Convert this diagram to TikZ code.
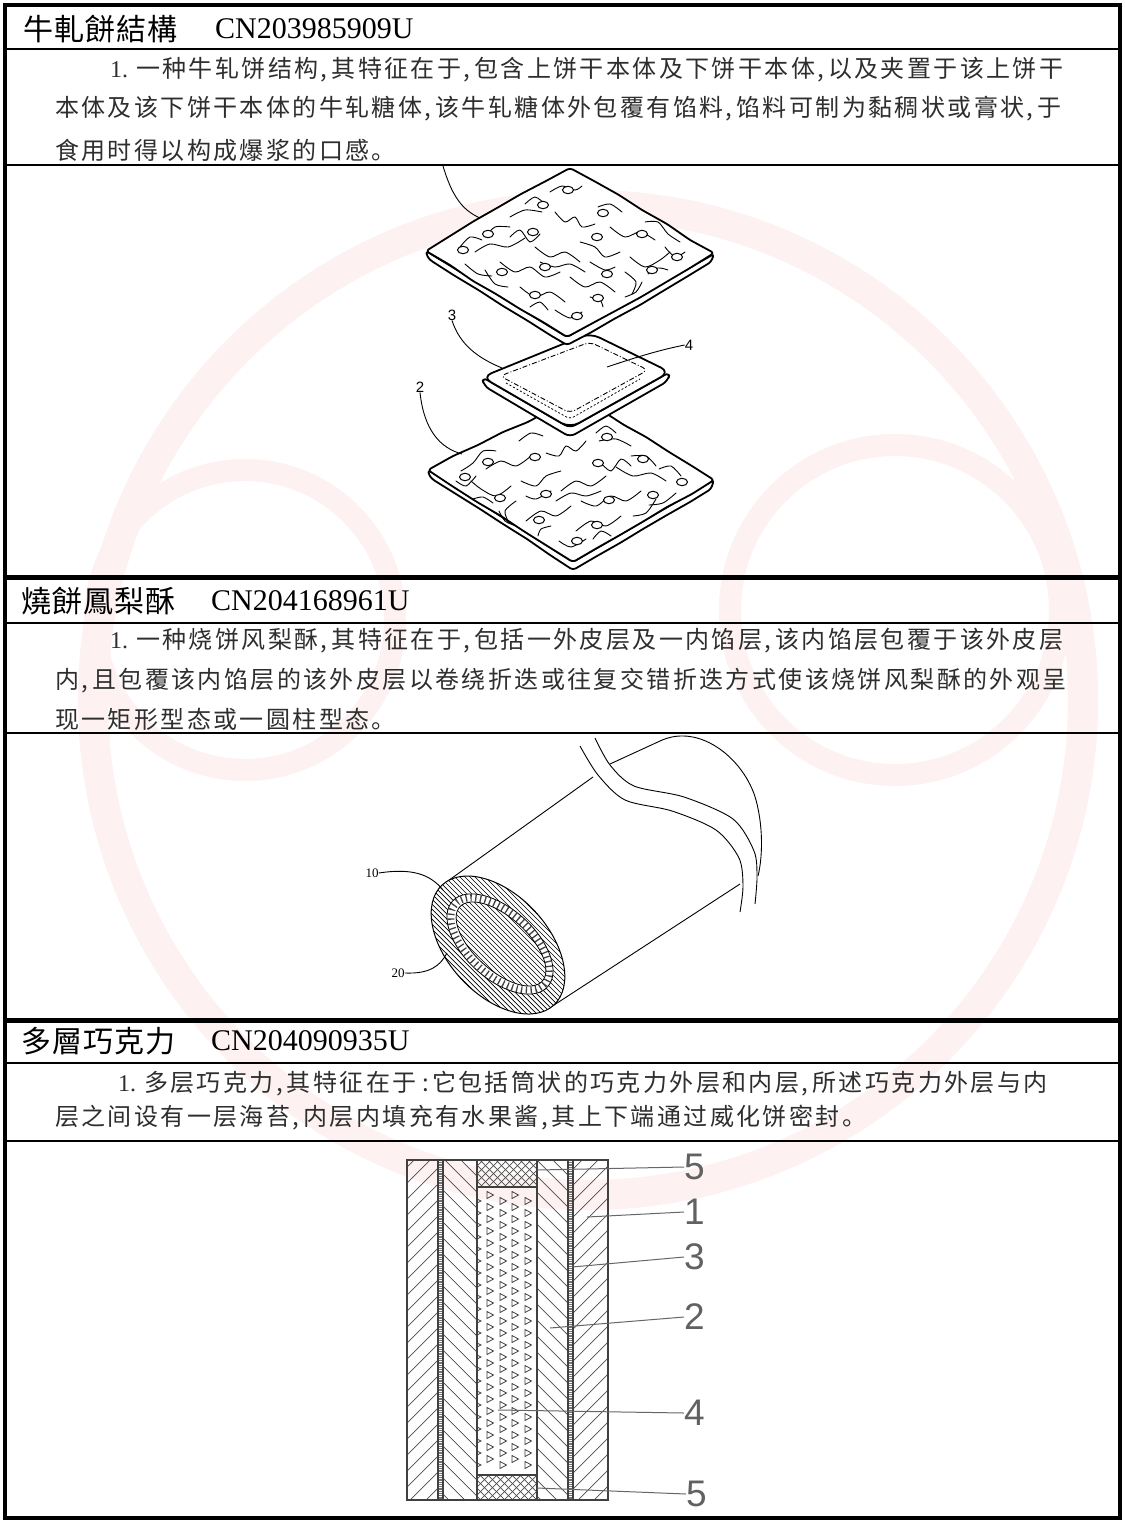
\documentclass[tikz,border=0pt]{standalone}
\usepackage{fontspec}
\setmainfont{Liberation Serif}
\newfontfamily\cjk[LetterSpace=10]{Noto Sans CJK SC}
\newfontfamily\cjkh[LetterSpace=4]{Noto Sans CJK TC}
\newfontfamily\lsans{Liberation Sans}
\definecolor{wm}{RGB}{253,241,241}
\newcommand\zc{,\kern4pt}
\newcommand\crtexture{%
  \foreach \c in {
   {(-95,0) (-80,-8) (-62,-5) (-45,-14)},
   {(-60,-35) (-45,-42) (-28,-40)},
   {(-20,-60) (-8,-66) (5,-62) (12,-66)},
   {(-15,-40) (-5,-30) (5,-35) (12,-25) (25,-28)},
   {(28,-45) (40,-48) (52,-40)},
   {(40,-25) (55,-15) (70,-20) (85,-12)},
   {(-70,10) (-55,20) (-40,15) (-25,25) (-10,20)},
   {(-35,-5) (-20,5) (-5,0) (10,10)},
   {(10,-10) (25,-5) (35,5) (50,0)},
   {(60,5) (75,15) (90,8) (100,0)},
   {(-50,35) (-35,45) (-20,40) (-5,50)},
   {(0,25) (15,35) (30,30) (45,40)},
   {(55,20) (66,30) (62,42)},
   {(-15,58) (0,66) (12,60)},
   {(20,45) (30,48) (33,55)},
   {(-85,-15) (-75,-25) (-60,-25)},
   {(75,-30) (88,-30) (98,-18) (110,-10)},
   {(-105,12) (-92,22) (-78,24)},
   {(78,22) (88,16) (98,18)},
   {(-60,-15) (-50,-22) (-40,-10) (-30,-18)},
   {(-85,18) (-75,32) (-62,35)},
   {(-110,-5) (-100,-15) (-88,-12)},
   {(-40,55) (-30,50) (-22,58)},
   {(-45,-48) (-35,-55) (-25,-48)},
   {(95,-5) (105,5) (115,0)},
   {(55,45) (66,40) (72,30)},
   {(-30,10) (-15,15) (0,12) (15,20)},
   {(20,10) (35,18) (45,15)}}
  \draw[wig] plot[smooth] coordinates \c;}
\begin{document}
\begin{tikzpicture}[x=1pt,y=-1pt,
  frame/.style={line width=3.5pt},
  rowline/.style={line width=2.8pt},
  sepline/.style={line width=5pt},
  hdr/.style={anchor=west,inner sep=0pt,font=\cjkh\fontsize{30}{32}\selectfont},
  hdrnum/.style={anchor=west,inner sep=0pt,font=\rmfamily\fontsize{30}{32}\selectfont},
  body/.style={anchor=west,inner sep=0pt,text=black!82,font=\cjk\fontsize{24}{28}\selectfont},
  crk/.style={line width=1.8pt,line join=round,fill=white,rounded corners=3pt},
  midp/.style={line width=1.8pt,line join=round,fill=white},
  wig/.style={line width=0.9pt,line cap=round},
  hole/.style={line width=1pt,fill=white},
  dd/.style={line width=0.9pt,dash pattern=on 5pt off 2pt on 1pt off 2pt},
  lbla/.style={inner sep=0pt,font=\lsans\fontsize{15}{15}\selectfont},
  lead/.style={line width=0.9pt},
  cyl/.style={line width=0.9pt,line join=round},
  lblb/.style={inner sep=0pt,font=\rmfamily\fontsize{13}{13}\selectfont},
  hat/.style={line width=0.7pt,black!70},
  lay/.style={line width=1.1pt,black!75},
  tri/.style={line width=0.8pt,black!75},
  lblc/.style={anchor=west,inner sep=0pt,text=black!62,font=\lsans\fontsize{37}{37}\selectfont},
  leadc/.style={line width=1pt,black!60}
]
\useasboundingbox (0,0) rectangle (1124,1520);
\fill[white] (0,0) rectangle (1124,1520);
% faint watermark
\draw[wm,line width=30pt] (588,700) circle [radius=495];
\draw[wm,line width=22pt] (245,620) circle [radius=150];
\draw[wm,line width=22pt] (895,610) circle [radius=165];

% ---------------- headers and texts ----------------
\node[hdr] (h1) at (23,29) {牛軋餅結構};
\node[hdrnum] (h1n) at (215,29) {CN203985909U};
\node[body] (t1a) at (110,70) {{\rmfamily 1.}\kern8pt 一种牛轧饼结构\zc 其特征在于\zc 包含上饼干本体及下饼干本体\zc 以及夹置于该上饼干};
\node[body] (t1b) at (55,109) {本体及该下饼干本体的牛轧糖体\zc 该牛轧糖体外包覆有馅料\zc 馅料可制为黏稠状或膏状\zc 于};
\node[body] (t1c) at (55,150) {食用时得以构成爆浆的口感。};

\node[hdr] (h2) at (21,601) {燒餅鳳梨酥};
\node[hdrnum] (h2n) at (211,601) {CN204168961U};
\node[body] (t2a) at (110,641) {{\rmfamily 1.}\kern8pt 一种烧饼风梨酥\zc 其特征在于\zc 包括一外皮层及一内馅层\zc 该内馅层包覆于该外皮层};
\node[body] (t2b) at (55,681) {内\zc 且包覆该内馅层的该外皮层以卷绕折迭或往复交错折迭方式使该烧饼风梨酥的外观呈};
\node[body] (t2c) at (55,719) {现一矩形型态或一圆柱型态。};

\node[hdr] (h3) at (21,1041) {多層巧克力};
\node[hdrnum] (h3n) at (211,1041) {CN204090935U};
\node[body] (t3a) at (118,1084) {{\rmfamily 1.}\kern8pt 多层巧克力\zc 其特征在于\kern6pt :\kern3pt 它包括筒状的巧克力外层和内层\zc 所述巧克力外层与内};
\node[body] (t3b) at (55,1118) {层之间设有一层海苔\zc 内层内填充有水果酱\zc 其上下端通过威化饼密封。};

% ---------------- picture 1: crackers ----------------
% bottom cracker
\filldraw[crk] (428,470) -- (429,475) -- (432,479) -- (456,494) -- (480,509) -- (503,524) -- (527,539) -- (550,555) -- (573,570) -- (597,556) -- (620,543) -- (643,529) -- (667,515) -- (690,502) -- (711,489) -- (714,480) -- (573,562) -- cycle;
\filldraw[crk] (578,397) -- (601,410) -- (624,425) -- (646,437) -- (669,452) -- (692,466) -- (714,480) -- (692,494) -- (667,507) -- (644,521) -- (620,535) -- (597,548) -- (573,562) -- (549,547) -- (525,532) -- (501,516) -- (477,502) -- (452,486) -- (428,470) -- (453,456) -- (478,445) -- (503,432) -- (528,422) -- (553,408) -- cycle;
\begin{scope}[shift={(571,481)},xscale=-1]
  \crtexture
\end{scope}
\foreach \x/\y in {607/437,488/462,535/457,598/463,643/459,465/477,682/482,500/498,546/494,609/500,653/495,539/520,597/525,577/541}
  \draw[hole] (\x,\y) ellipse [x radius=5.5,y radius=3.7];
% middle piece
\filldraw[midp,rounded corners=6pt] (482,377) -- (484,386) -- (570,437) -- (668,381) -- (670,372) -- (570,428) -- cycle;
\filldraw[midp,rounded corners=10pt] (590,333) -- (670,372) -- (570,428) -- (482,377) -- cycle;
\draw[dd,rounded corners=6pt] (590,342) -- (648,370) -- (570,413) -- (500,376) -- cycle;
\draw[line width=0.8pt,dash pattern=on 2pt off 2pt,rounded corners=4pt] (506,383) -- (570,419) -- (640,379);
% top cracker
\filldraw[crk] (426,251) -- (427,256) -- (430,260) -- (455,276) -- (480,291) -- (503,306) -- (528,321) -- (550,335) -- (567,345) -- (590,333) -- (614,319) -- (640,305) -- (663,291) -- (688,276) -- (711,262) -- (714,254) -- (567,337) -- cycle;
\filldraw[crk] (570,168) -- (594,181) -- (619,195) -- (642,210) -- (667,224) -- (690,240) -- (714,253) -- (690,268) -- (668,281) -- (641,297) -- (617,310) -- (591,324) -- (567,337) -- (543,322) -- (520,309) -- (496,294) -- (473,281) -- (450,265) -- (426,251) -- (450,236) -- (474,221) -- (497,208) -- (521,194) -- (546,181) -- cycle;
\begin{scope}[shift={(570,252)}]
  \crtexture
\end{scope}
\foreach \x/\y in {568/190,543/205,603/213,488/234,533/232,597/237,642/234,463/250,677/257,502/272,545/267,607/274,652/270,535/295,598/298,577/316}
  \draw[hole] (\x,\y) ellipse [x radius=5.5,y radius=3.7];
% leaders and labels
\coordinate (l1s) at (443,166);
\coordinate (l1e) at (480,218);
\draw[lead] (l1s) .. controls (452,196) and (462,210) .. (l1e);
\node[lbla] (n3) at (452,315) {3};
\coordinate (l3e) at (502,368);
\draw[lead] (n3.south) .. controls (460,345) and (478,358) .. (l3e);
\node[lbla] (n4) at (689,345) {4};
\coordinate (l4e) at (607,367);
\draw[lead] (n4.west) .. controls (660,350) and (640,356) .. (l4e);
\node[lbla] (n2) at (420,387) {2};
\coordinate (l2e) at (462,454);
\draw[lead] (n2.south) .. controls (424,430) and (440,448) .. (l2e);

% ---------------- picture 2: cylinder ----------------
\draw[cyl] (445,883) -- (593,777);
\draw[cyl] (551,1007) -- (740,884);
\draw[cyl] plot[smooth] coordinates {(580,746) (598,775) (625,800) (672,811) (716,830) (739,858) (743,886) (740,912)};
\draw[cyl] plot[smooth] coordinates {(595,738) (610,765) (634,786) (684,797) (733,819) (754,851) (757,877) (755,904)};
\draw[cyl] (610,764) -- (660,741) .. controls (700,722) and (745,760) .. (756,800) .. controls (764,830) and (762,860) .. (758,876);
% end face
\coordinate (fc) at (498,945);
\fill[white,rotate around={-47:(fc)}] (fc) ellipse [x radius=82,y radius=50];
\begin{scope}
  \clip[rotate around={-47:(fc)}] (fc) ellipse [x radius=82,y radius=50];
  \foreach \k in {-240,-235,...,240}
    \draw[line width=0.7pt] (\k+348,795) -- (\k+648,1095);
\end{scope}
\filldraw[fill=white,line width=0.8pt,rotate around={-42:(500,944)}] (500,944) ellipse [x radius=64,y radius=35];
\draw[line width=7pt,dash pattern=on 1.3pt off 3.5pt,black!75,rotate around={-42:(500,944)}] (500,944) ellipse [x radius=60,y radius=31];
\fill[white,rotate around={-42:(501,944)}] (501,944) ellipse [x radius=55.5,y radius=26.5];
\begin{scope}
  \clip[rotate around={-42:(501,944)}] (501,944) ellipse [x radius=55.5,y radius=26.5];
  \foreach \k in {-200,-195,...,200}
    \draw[line width=0.6pt] (\k+351,794) -- (\k+651,1094);
\end{scope}
\draw[line width=0.8pt,rotate around={-42:(501,944)}] (501,944) ellipse [x radius=55.5,y radius=26.5];
\draw[line width=1pt,rotate around={-47:(fc)}] (fc) ellipse [x radius=82,y radius=50];
\node[lblb] (n10) at (372,873) {10};
\coordinate (l10e) at (443,890);
\draw[cyl] (n10.east) .. controls (412,868) and (430,874) .. (l10e);
\node[lblb] (n20) at (398,973) {20};
\coordinate (l20e) at (447,953);
\draw[cyl] (n20.east) .. controls (430,974) and (440,966) .. (l20e);

% ---------------- picture 3: layered chocolate ----------------
\begin{scope}
  \clip (407,1160) rectangle (438,1500);
  \foreach \k in {1120,1136,...,1510} \draw[hat] (407,\k+31) -- (438,\k);
\end{scope}
\begin{scope}
  \clip (443,1160) rectangle (477,1500);
  \foreach \k in {1110,1126,...,1510} \draw[hat] (443,\k) -- (477,\k+34);
\end{scope}
\begin{scope}
  \clip (537,1160) rectangle (568,1500);
  \foreach \k in {1112,1128,...,1510} \draw[hat] (537,\k) -- (568,\k+31);
\end{scope}
\begin{scope}
  \clip (573,1160) rectangle (608,1500);
  \foreach \k in {1118,1134,...,1510} \draw[hat] (573,\k+35) -- (608,\k);
\end{scope}
\begin{scope}
  \clip (477,1160) rectangle (537,1187);
  \foreach \k in {440,448,...,560} {\draw[hat] (\k,1160) -- (\k+27,1187); \draw[hat] (\k+27,1160) -- (\k,1187);}
\end{scope}
\begin{scope}
  \clip (477,1475) rectangle (537,1500);
  \foreach \k in {440,448,...,560} {\draw[hat] (\k,1475) -- (\k+25,1500); \draw[hat] (\k+25,1475) -- (\k,1500);}
\end{scope}
\foreach \r in {0,...,22} {
  \pgfmathsetmacro\ya{1195+12*\r}
  \pgfmathsetmacro\yb{1201+12*\r}
  \foreach \cx in {490,515} \draw[tri] (\cx-3,\ya-3.5) -- (\cx+3.5,\ya) -- (\cx-3,\ya+3.5) -- cycle;
  \foreach \cx in {503,528} \draw[tri] (\cx-3,\yb-3.5) -- (\cx+3.5,\yb) -- (\cx-3,\yb+3.5) -- cycle;
  \draw[tri] (477,\yb-2) -- (481,\yb) -- (477,\yb+2);
}
\draw[line width=2.6pt,dash pattern=on 0.9pt off 0.9pt,black!55] (440.5,1160) -- (440.5,1500);
\draw[line width=2.6pt,dash pattern=on 0.9pt off 0.9pt,black!55] (570.5,1160) -- (570.5,1500);
\foreach \xx in {438,443,477,537,568,573} \draw[lay] (\xx,1160) -- (\xx,1500);
\draw[lay] (477,1187) -- (537,1187);
\draw[lay] (477,1475) -- (537,1475);
\draw[line width=1.3pt,black!75] (407,1160) rectangle (608,1500);
\node[lblc] (c5a) at (684,1167) {5};
\node[lblc] (c1) at (684,1212) {1};
\node[lblc] (c3) at (684,1257) {3};
\node[lblc] (c2) at (684,1317) {2};
\node[lblc] (c4) at (684,1413) {4};
\node[lblc] (c5b) at (686,1494) {5};
\coordinate (p5a) at (537,1170);
\coordinate (p1) at (587,1217);
\coordinate (p3) at (572,1267);
\coordinate (p2) at (550,1328);
\coordinate (p4) at (498,1410);
\coordinate (p5b) at (537,1488);
\draw[leadc] (p5a) -- (c5a.west);
\draw[leadc] (p1) -- (c1.west);
\draw[leadc] (p3) -- (c3.west);
\draw[leadc] (p2) -- (c2.west);
\draw[leadc] (p4) -- (c4.west);
\draw[leadc] (p5b) -- (c5b.west);

% ---------------- table lines ----------------
\draw[rowline] (5,49) -- (1120,49);
\draw[rowline] (5,165) -- (1120,165);
\draw[sepline] (5,577) -- (1120,577);
\draw[rowline] (5,623) -- (1120,623);
\draw[rowline] (5,733) -- (1120,733);
\draw[sepline] (5,1020) -- (1120,1020);
\draw[rowline] (5,1063) -- (1120,1063);
\draw[rowline] (5,1141) -- (1120,1141);
\draw[frame] (5,5) rectangle (1120,1518);
\end{tikzpicture}
\end{document}
